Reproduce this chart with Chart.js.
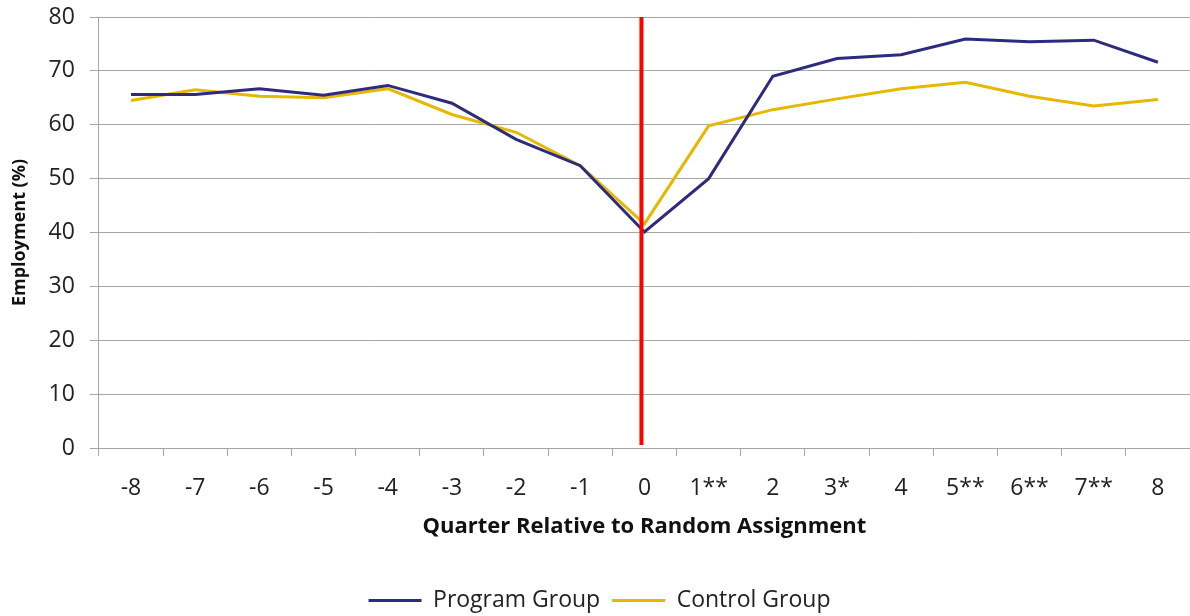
<!DOCTYPE html>
<html>
<head>
<meta charset="utf-8">
<script src="https://cdn.jsdelivr.net/npm/chart.js@4/dist/chart.umd.min.js"></script>
<style>
  body { margin: 0; background: #fff; }
  #wrap { width: 1190px; height: 616px; }
</style>
</head>
<body>
<div id="wrap"><canvas id="empChart"></canvas></div>
<script>
// quarters relative to random assignment (stars mark significant differences)
const quarters = ["-8", "-7", "-6", "-5", "-4", "-3", "-2", "-1", "0", "1**", "2", "3*", "4", "5**", "6**", "7**", "8"];
const programGroup = [65.6, 65.6, 66.7, 65.5, 67.3, 64.0, 57.3, 52.4, 40.1, 50.0, 69.0, 72.3, 73.0, 75.9, 75.4, 75.7, 71.6];
const controlGroup = [64.5, 66.5, 65.3, 65.0, 66.7, 61.9, 58.6, 52.4, 41.6, 59.8, 62.8, 64.8, 66.7, 67.9, 65.3, 63.5, 64.7];
const assignmentQuarter = "0";

const fontFamily = "'Open Sans', 'Liberation Sans', sans-serif";

// red vertical marker at the random assignment quarter
const assignmentLine = {
  id: "assignmentLine",
  afterDatasetsDraw(chart) {
    const { ctx, chartArea, scales } = chart;
    const x = scales.x.getPixelForValue(quarters.indexOf(assignmentQuarter)) - 3;
    ctx.save();
    ctx.strokeStyle = "#ff0000";
    ctx.lineWidth = 4;
    ctx.beginPath();
    ctx.moveTo(x, chartArea.top);
    ctx.lineTo(x, chartArea.bottom - 3);
    ctx.stroke();
    ctx.restore();
  }
};

new Chart(document.getElementById("empChart"), {
  type: "line",
  data: {
    labels: quarters,
    datasets: [
      {
        label: "Program Group",
        data: programGroup,
        borderColor: "#2E2B7F",
        backgroundColor: "#2E2B7F",
        borderWidth: 3,
        pointRadius: 0,
        tension: 0
      },
      {
        label: "Control Group",
        data: controlGroup,
        borderColor: "#E6B800",
        backgroundColor: "#E6B800",
        borderWidth: 3,
        pointRadius: 0,
        tension: 0
      }
    ]
  },
  options: {
    responsive: true,
    maintainAspectRatio: false,
    animation: false,
    layout: { padding: { top: 17, right: 0, left: 9, bottom: -6 } },
    scales: {
      x: {
        offset: true,
        grid: { offset: true, drawOnChartArea: false, drawTicks: true, tickLength: 8, color: "#a6a6a6" },
        border: { color: "#a6a6a6" },
        ticks: { color: "#222", font: { family: fontFamily, size: 23 }, padding: 19, maxRotation: 0, autoSkip: false },
        title: { display: true, text: "Quarter Relative to Random Assignment", color: "#111", font: { family: fontFamily, size: 22, weight: "bold" }, padding: { top: -8, bottom: 37 } }
      },
      y: {
        min: 0,
        max: 80,
        afterFit(scale) { scale.paddingTop = 0; },
        ticks: { stepSize: 10, color: "#222", font: { family: fontFamily, size: 23 }, padding: 15 },
        grid: { color: "#a6a6a6", tickLength: 9 },
        border: { color: "#a6a6a6" },
        title: { display: true, text: "Employment (%)", color: "#111", font: { family: fontFamily, size: 18, weight: "bold" }, padding: { top: 0, bottom: 3 } }
      }
    },
    plugins: {
      legend: {
        position: "bottom",
        labels: {
          usePointStyle: true,
          pointStyle: "line",
          pointStyleWidth: 53,
          boxWidth: 53,
          color: "#222",
          font: { family: fontFamily, size: 23 },
          padding: 12
        }
      },
      tooltip: { enabled: false }
    }
  },
  plugins: [assignmentLine]
});
</script>
</body>
</html>
